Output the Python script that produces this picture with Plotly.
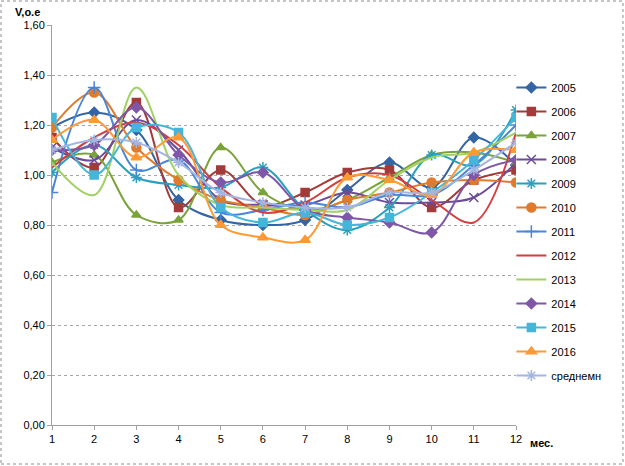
import plotly.graph_objects as go

months = [1, 2, 3, 4, 5, 6, 7, 8, 9, 10, 11, 12]

s2005 = [1.19, 1.25, 1.18, 0.90, 0.82, 0.80, 0.82, 0.94, 1.05, 0.95, 1.15, 1.04]
s2006 = [1.15, 1.03, 1.29, 0.87, 1.02, 0.88, 0.93, 1.01, 1.02, 0.87, 0.98, 1.02]
s2007 = [1.05, 1.08, 0.84, 0.82, 1.11, 0.93, 0.86, 0.90, 0.99, 1.08, 1.09, 1.05]
s2008 = [1.11, 1.06, 1.22, 1.10, 0.90, 0.88, 0.88, 0.93, 0.89, 0.89, 0.91, 1.05]
s2009 = [1.01, 1.12, 0.99, 0.96, 0.95, 1.03, 0.86, 0.78, 0.87, 1.08, 1.04, 1.26]
s2010 = [1.19, 1.33, 1.11, 0.98, 0.90, 0.87, 0.84, 0.90, 0.93, 0.97, 0.98, 0.97]
s2011 = [0.93, 1.35, 1.02, 1.06, 0.85, 0.86, 0.89, 0.87, 0.92, 0.92, 1.04, 1.20]
s2012 = [1.03, 1.15, 1.21, 1.12, 0.95, 0.85, 0.89, 0.99, 1.00, 0.90, 0.81, 1.17]
s2013 = [1.05, 0.92, 1.35, 1.00, 0.88, 0.87, 0.86, 0.86, 0.98, 1.07, 1.09, 1.17]
s2014 = [1.10, 1.12, 1.27, 1.08, 0.97, 1.01, 0.86, 0.83, 0.81, 0.77, 1.00, 1.06]
s2015 = [1.23, 1.00, 1.19, 1.17, 0.87, 0.81, 0.85, 0.80, 0.83, 0.93, 1.06, 1.23]
s2016 = [1.14, 1.22, 1.07, 1.15, 0.80, 0.75, 0.74, 0.99, 0.98, 0.92, 1.09, 1.10]
s_avg = [1.10, 1.14, 1.13, 1.05, 0.93, 0.89, 0.87, 0.87, 0.93, 0.93, 1.02, 1.13]

names = ["2005", "2006", "2007", "2008", "2009", "2010", "2011",
         "2012", "2013", "2014", "2015", "2016", "среднемн"]
values = [s2005, s2006, s2007, s2008, s2009, s2010, s2011,
          s2012, s2013, s2014, s2015, s2016, s_avg]
colors = ["#3465A4", "#A33B3A", "#7AA33A", "#6B4C9A", "#2AA0BE", "#E07A2C",
          "#4A86D8", "#D23F3F", "#A2D163", "#7F57A8", "#45B5DA", "#FF9933",
          "#A3B5E0"]
symbols = ["diamond", "square", "triangle-up", "x-thin-open", "asterisk-open",
           "circle", "cross-thin-open", None, None, "diamond", "square",
           "triangle-up", "asterisk-open"]
sizes = [8, 8, 8, 9, 9, 9, 9, 0, 0, 8, 8, 9, 9]

fig = go.Figure()
for i, (n, v) in enumerate(zip(names, values)):
    sym = symbols[i]
    tr = dict(
        x=months, y=v, name=n, legendgroup=n,
        line=dict(color=colors[i], width=2, shape="spline", smoothing=1.0),
    )
    if sym is None:
        tr["mode"] = "lines"
    else:
        tr["mode"] = "lines+markers"
        tr["marker"] = dict(symbol=sym, size=sizes[i], color=colors[i],
                            line=dict(color=colors[i], width=1.5))
    fig.add_trace(go.Scatter(**tr))

fig.update_layout(
    width=625, height=466,
    margin=dict(l=52, r=109, t=25, b=41),
    paper_bgcolor="white", plot_bgcolor="white",
    separators=", ",
    font=dict(family="Liberation Sans, Arial, sans-serif", size=11, color="#000"),
    showlegend=True,
    legend=dict(
        x=0.99, xanchor="left", y=0.88, yanchor="top",
        font=dict(size=11, color="#000"),
        tracegroupgap=5, itemwidth=30, bgcolor="rgba(0,0,0,0)",
        traceorder="grouped",
    ),
    xaxis=dict(
        range=[1, 12], tickmode="array", tickvals=months,
        ticks="outside", ticklen=4, tickcolor="#A0A0A0",
        showline=True, linecolor="#A0A0A0", linewidth=1,
        showgrid=False, zeroline=False, tickfont=dict(size=11),
    ),
    yaxis=dict(
        range=[0, 1.6], tickvals=[0, 0.2, 0.4, 0.6, 0.8, 1.0, 1.2, 1.4, 1.6],
        tickformat=".2f", ticks="outside", ticklen=4, tickcolor="#A0A0A0",
        showline=True, linecolor="#A0A0A0", linewidth=1,
        showgrid=True, gridcolor="#A6A6A6", griddash="dot", gridwidth=1,
        zeroline=False, tickfont=dict(size=11),
    ),
    annotations=[
        dict(text="<b>V,o.e</b>", xref="paper", yref="paper",
             x=-0.085, y=1.0325, xanchor="left", yanchor="middle",
             showarrow=False, font=dict(size=11)),
        dict(text="<b>мес.</b>", xref="paper", yref="paper",
             x=1.025, y=-0.025, xanchor="left", yanchor="top",
             showarrow=False, font=dict(size=11)),
    ],
    shapes=[
        dict(type="rect", xref="paper", yref="paper",
             x0=-0.1099, x1=1.2306, y0=-0.0975, y1=1.06,
             line=dict(color="#8C8C8C", width=1, dash="dot")),
    ],
)

fig.write_html(
    "out.html",
    config={"displayModeBar": False},
    post_script="document.body.style.margin='0';document.body.style.overflow='hidden';",
)
